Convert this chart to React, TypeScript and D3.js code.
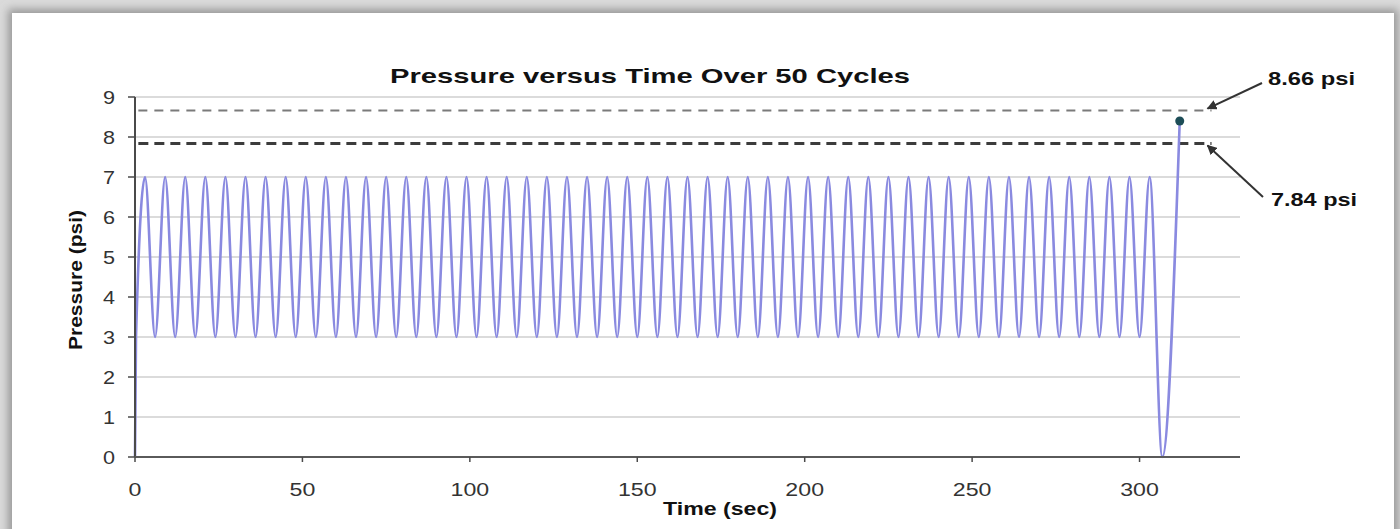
import React from "react";
import * as d3 from "d3";

const W = 1400;
const H = 529;

const titleText = "Pressure versus Time Over 50 Cycles";
const xLabel = "Time (sec)";
const yLabel = "Pressure (psi)";

const xTicks = [0, 50, 100, 150, 200, 250, 300];
const yTicks = [0, 1, 2, 3, 4, 5, 6, 7, 8, 9];

const time = [
  0, 0.3,
  3, 6, 9, 12, 15, 18, 21, 24, 27, 30,
  33, 36, 39, 42, 45, 48, 51, 54, 57, 60,
  63, 66, 69, 72, 75, 78, 81, 84, 87, 90,
  93, 96, 99, 102, 105, 108, 111, 114, 117, 120,
  123, 126, 129, 132, 135, 138, 141, 144, 147, 150,
  153, 156, 159, 162, 165, 168, 171, 174, 177, 180,
  183, 186, 189, 192, 195, 198, 201, 204, 207, 210,
  213, 216, 219, 222, 225, 228, 231, 234, 237, 240,
  243, 246, 249, 252, 255, 258, 261, 264, 267, 270,
  273, 276, 279, 282, 285, 288, 291, 294, 297, 300,
  303, 306.8, 312,
];

const pressure = [
  0, 3,
  7, 3, 7, 3, 7, 3, 7, 3, 7, 3,
  7, 3, 7, 3, 7, 3, 7, 3, 7, 3,
  7, 3, 7, 3, 7, 3, 7, 3, 7, 3,
  7, 3, 7, 3, 7, 3, 7, 3, 7, 3,
  7, 3, 7, 3, 7, 3, 7, 3, 7, 3,
  7, 3, 7, 3, 7, 3, 7, 3, 7, 3,
  7, 3, 7, 3, 7, 3, 7, 3, 7, 3,
  7, 3, 7, 3, 7, 3, 7, 3, 7, 3,
  7, 3, 7, 3, 7, 3, 7, 3, 7, 3,
  7, 3, 7, 3, 7, 3, 7, 3, 7, 3,
  7, 0, 8.4,
];

const finalPoint = { t: 312, p: 8.4 };

const limitValues = [8.66, 7.84];
const limitLabels = ["8.66 psi", "7.84 psi"];
const limitLineEnd = 321.5;

const FONT = "'Liberation Sans', Arial, sans-serif";

export default function App() {
  const left = 135;
  const right = 1240;
  const top = 97;
  const bottom = 457;

  const x = d3.scaleLinear().domain([0, 330]).range([left, right]);
  const y = d3.scaleLinear().domain([0, 9]).range([bottom, top]);

  const pts: [number, number][] = time.map((t, i) => [t, pressure[i]]);
  const line = d3
    .line<[number, number]>()
    .x((d) => x(d[0]))
    .y((d) => y(d[1]))
    .curve(d3.curveMonotoneX);

  const labelStyles = [
    { dash: "9 7", color: "#7a7a7a", width: 2 },
    { dash: "10 6", color: "#3c3c3c", width: 3 },
  ];
  const annot = [
    { tx: 1268, ty: 85, len: 87, sx: 1262, sy: 83 },
    { tx: 1271, ty: 206, len: 86, sx: 1263, sy: 197 },
  ];

  return (
    <svg
      width={W}
      height={H}
      style={{ position: "absolute", left: 0, top: 0 }}
      fontFamily={FONT}
    >
      <defs>
        <filter id="shadow" x="-5%" y="-5%" width="110%" height="110%">
          <feGaussianBlur stdDeviation="4" />
        </filter>
        <marker
          id="arrow"
          viewBox="0 0 10 10"
          refX="9"
          refY="5"
          markerWidth="5"
          markerHeight="5"
          orient="auto-start-reverse"
        >
          <path d="M0,0 L10,5 L0,10 z" fill="#333" />
        </marker>
      </defs>
      <rect x={0} y={0} width={W} height={H} fill="#dadada" />
      <rect x={8} y={9} width={1390} height={530} fill="#999" filter="url(#shadow)" />
      <rect x={12} y={13} width={1382} height={530} fill="#ffffff" />

      {/* grid */}
      {yTicks
        .filter((v) => v > 0)
        .map((v) => (
          <line
            key={"g" + v}
            x1={left}
            x2={right}
            y1={y(v)}
            y2={y(v)}
            stroke="#cfcfcf"
            strokeWidth={1.5}
          />
        ))}

      {/* limit lines */}
      {limitValues.map((v, i) => (
        <line
          key={"l" + i}
          x1={x(1)}
          x2={x(limitLineEnd)}
          y1={y(v)}
          y2={y(v)}
          stroke={labelStyles[i].color}
          strokeWidth={labelStyles[i].width}
          strokeDasharray={labelStyles[i].dash}
        />
      ))}

      {/* series */}
      <path d={line(pts) || ""} fill="none" stroke="#8a8ae0" strokeWidth={2.6} />
      <circle cx={x(finalPoint.t)} cy={y(finalPoint.p)} r={4.5} fill="#1d4d57" />

      {/* axes */}
      <line x1={left} x2={left} y1={top} y2={bottom} stroke="#4a4a4a" strokeWidth={2} />
      <line x1={left} x2={right} y1={bottom} y2={bottom} stroke="#5a5a5a" strokeWidth={2} />
      {yTicks.map((v) => (
        <g key={"yt" + v}>
          <line x1={left - 7} x2={left} y1={y(v)} y2={y(v)} stroke="#4a4a4a" strokeWidth={1.5} />
          <text
            transform={`translate(${left - 20},${y(v) + 6.5}) scale(1.2,1)`}
            textAnchor="end"
            fontSize={18}
            fill="#333"
          >
            {v}
          </text>
        </g>
      ))}
      {xTicks.map((v) => (
        <g key={"xt" + v}>
          <line x1={x(v)} x2={x(v)} y1={bottom} y2={bottom + 5} stroke="#4a4a4a" strokeWidth={1.5} />
          <text
            transform={`translate(${x(v)},${bottom + 39}) scale(1.22,1)`}
            textAnchor="middle"
            fontSize={19}
            fill="#333"
          >
            {v}
          </text>
        </g>
      ))}

      {/* titles */}
      <text
        x={650}
        y={83}
        textAnchor="middle"
        fontSize={21}
        fontWeight="bold"
        fill="#111"
        textLength={520}
        lengthAdjust="spacingAndGlyphs"
      >
        {titleText}
      </text>
      <text
        x={720}
        y={515}
        textAnchor="middle"
        fontSize={18}
        fontWeight="bold"
        fill="#111"
        textLength={114}
        lengthAdjust="spacingAndGlyphs"
      >
        {xLabel}
      </text>
      <text
        transform={`translate(82,${280}) rotate(-90)`}
        textAnchor="middle"
        fontSize={19}
        fontWeight="bold"
        fill="#111"
        textLength={140}
        lengthAdjust="spacingAndGlyphs"
      >
        {yLabel}
      </text>

      {/* annotations */}
      {limitValues.map((v, i) => (
        <g key={"a" + i}>
          <line
            x1={annot[i].sx}
            y1={annot[i].sy}
            x2={x(limitLineEnd) - 4}
            y2={y(v) + (i === 0 ? -2 : 2)}
            stroke="#333"
            strokeWidth={2}
            markerEnd="url(#arrow)"
          />
          <text
            x={annot[i].tx}
            y={annot[i].ty}
            fontSize={19}
            fontWeight="bold"
            fill="#111"
            textLength={annot[i].len}
            lengthAdjust="spacingAndGlyphs"
          >
            {limitLabels[i]}
          </text>
        </g>
      ))}
    </svg>
  );
}
